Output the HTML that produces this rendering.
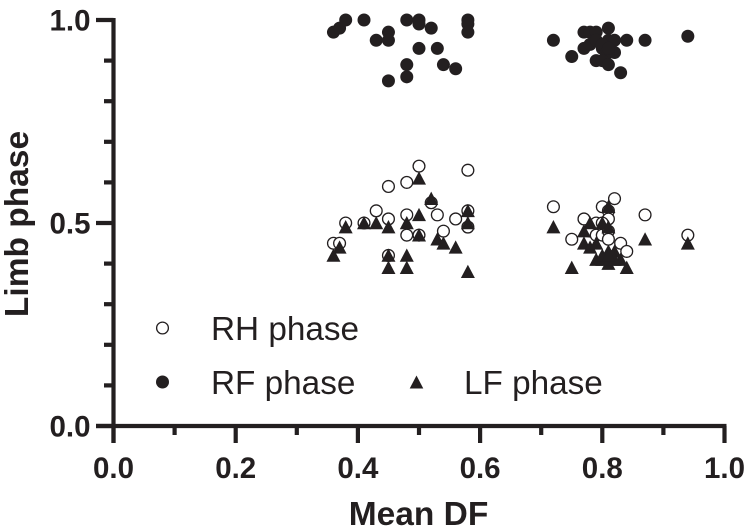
<!DOCTYPE html>
<html>
<head>
<meta charset="utf-8">
<style>
html,body{margin:0;padding:0;background:#fff;}
svg{display:block;}
text{font-family:"Liberation Sans",Arial,sans-serif;fill:#231f20;}
.tick{font-weight:bold;font-size:29.5px;}
.title{font-weight:bold;font-size:33.5px;}
.legend{font-size:33.3px;}
</style>
</head>
<body>
<svg id="chart" width="750" height="532" viewBox="0 0 750 532" xmlns="http://www.w3.org/2000/svg">
<g id="marks-rh"></g>
<g id="marks-rf"></g>
<g id="marks-lf"></g>
<g id="axes"></g>
<text class="title" x="418.5" y="525" text-anchor="middle">Mean DF</text>
<text class="title" transform="translate(28,224) rotate(-90)" text-anchor="middle">Limb phase</text>
<g>
<circle cx="162.5" cy="328" r="5.9" fill="#fff" stroke="#231f20" stroke-width="1.3"></circle>
<text class="legend" x="211" y="340">RH phase</text>
<circle cx="162.5" cy="382" r="6.5" fill="#231f20"></circle>
<text class="legend" x="211" y="394">RF phase</text>
<polygon points="416.5,375.5 423.3,388.5 409.7,388.5" fill="#231f20"></polygon>
<text class="legend" x="464" y="394">LF phase</text>
</g>
</svg>
<script>
var rhX = [.50,.58,.45,.48,.52,.43,.53,.56,.58,.58,.38,.41,.45,.48,.48,.50,.54,.36,.37,.45,
           .72,.82,.80,.81,.87,.77,.81,.79,.80,.94,.75,.83,.84,.78,.79,.80,.81,.81];
var rhY = [.64,.63,.59,.60,.55,.53,.52,.51,.53,.49,.50,.50,.51,.52,.47,.47,.48,.45,.45,.42,
           .54,.56,.54,.53,.52,.51,.51,.50,.50,.47,.46,.45,.43,.48,.47,.47,.48,.46];
var rfX = [.36,.37,.38,.41,.43,.45,.45,.48,.50,.50,.52,.50,.53,.48,.48,.45,.54,.56,.58,.58,.58,
           .72,.75,.81,.77,.78,.79,.84,.87,.94,.83,.77,.78,.80,.81,.82,.82,.81,.79,.80,.81,.79,.80,.81];
var rfY = [.97,.98,1.0,1.0,.95,.97,.95,1.0,1.0,.99,.98,.93,.93,.89,.86,.85,.89,.88,1.0,.99,.97,
           .95,.91,.98,.97,.97,.97,.95,.95,.96,.87,.93,.94,.93,.95,.95,.92,.92,.90,.90,.89,.95,.94,.93];
var lfX = [.50,.52,.58,.58,.38,.41,.43,.45,.48,.50,.50,.53,.54,.56,.58,.37,.36,.45,.48,.45,.48,
           .72,.81,.78,.80,.81,.77,.77,.78,.79,.87,.94,.75,.84,.83,.81,.79,.80,.81,.82,.80,.82,.81];
var lfY = [.61,.56,.53,.50,.49,.50,.50,.49,.50,.52,.47,.46,.45,.44,.38,.44,.42,.42,.42,.39,.39,
           .49,.54,.50,.50,.49,.48,.45,.44,.45,.46,.45,.39,.39,.41,.40,.41,.41,.43,.43,.42,.41,.42];
var xTicks = ["0.0","0.2","0.4","0.6","0.8","1.0"];
var yTicks = ["0.0","0.5","1.0"];
var xMinor = [0.1,0.3,0.5,0.7,0.9];
var yMinor = [0.1,0.2,0.3,0.4,0.6,0.7,0.8,0.9];

var NS = "http://www.w3.org/2000/svg";
var INK = "#231f20";
function sx(v){ return 113.5 + v * 611; }
function sy(v){ return 426 - v * 406; }
function make(tag, attrs, parent){
  var el = document.createElementNS(NS, tag);
  for (var k in attrs) el.setAttribute(k, attrs[k]);
  parent.appendChild(el);
  return el;
}
var rhLayer = document.getElementById("marks-rh");
rhX.forEach(function(v, i){
  var el = make("circle", {cx: sx(v), cy: sy(rhY[i]), r: 5.9, fill: "#fff", stroke: INK, "stroke-width": 1.3}, rhLayer);
  
  
});
var rfLayer = document.getElementById("marks-rf");
rfX.forEach(function(v, i){
  var el = make("circle", {cx: sx(v), cy: sy(rfY[i]), r: 6.5, fill: INK}, rfLayer);
  
  
});
var lfLayer = document.getElementById("marks-lf");
lfX.forEach(function(v, i){
  var x = sx(v), y = sy(lfY[i]);
  var el = make("polygon", {points: x + "," + (y - 7) + " " + (x + 7) + "," + (y + 6.3) + " " + (x - 7) + "," + (y + 6.3), fill: INK}, lfLayer);
  
  
});
var axes = document.getElementById("axes");
var xLine = make("line", {x1: 96, x2: 726.5, y1: sy(0), y2: sy(0), stroke: INK, "stroke-width": 4.2}, axes);


var yLine = make("line", {x1: sx(0), x2: sx(0), y1: 18, y2: 443, stroke: INK, "stroke-width": 4.2}, axes);


xTicks.forEach(function(t){
  var x = sx(parseFloat(t));
  var line = make("line", {x1: x, x2: x, y1: 426, y2: 443, stroke: INK, "stroke-width": 4.2}, axes);
  
  
  var label = make("text", {x: x, y: 478, "text-anchor": "middle", "class": "tick"}, axes);
  label.textContent = t;
  
  
});
xMinor.forEach(function(v){
  var x = sx(v);
  var line = make("line", {x1: x, x2: x, y1: 426, y2: 435, stroke: INK, "stroke-width": 4.2}, axes);
  
  
});
yTicks.forEach(function(t){
  var y = sy(parseFloat(t));
  var line = make("line", {x1: 96, x2: 113.5, y1: y, y2: y, stroke: INK, "stroke-width": 4.2}, axes);
  
  
  var label = make("text", {x: 90.5, y: y + 10.5, "text-anchor": "end", "class": "tick"}, axes);
  label.textContent = t;
  
  
});
yMinor.forEach(function(v){
  var y = sy(v);
  var line = make("line", {x1: 104, x2: 113.5, y1: y, y2: y, stroke: INK, "stroke-width": 4.2}, axes);
  
  
});
</script>
</body>
</html>
